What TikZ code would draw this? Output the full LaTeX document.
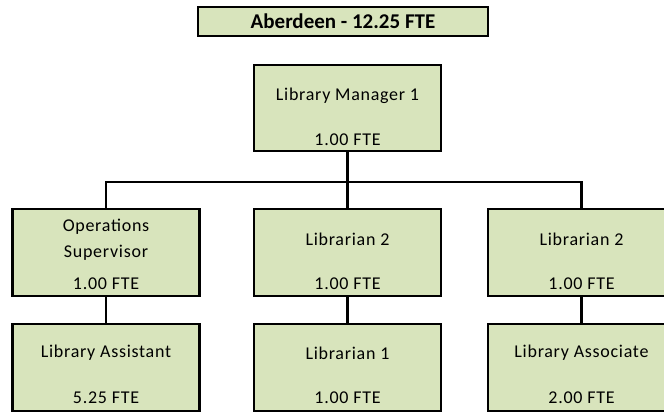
\documentclass[tikz,border=0pt]{standalone}
\usepackage{fontspec}
\setmainfont{Carlito}
\newfontfamily\boxfont{Carlito}[LetterSpace=4]
\definecolor{boxgreen}{HTML}{D8E4BC}
\tikzset{
  postbox/.style={draw=black, line width=2.4pt, fill=boxgreen, rectangle,
    minimum width=187pt, minimum height=87pt, inner sep=0pt},
  titlebox/.style={draw=black, line width=2.4pt, fill=boxgreen, rectangle,
    minimum width=290pt, minimum height=29pt, inner sep=0pt,
    font=\fontsize{21}{25}\selectfont\bfseries},
  posttext/.style={inner sep=0pt, font=\boxfont\fontsize{18}{21}\selectfont},
  link/.style={draw=black, line width=2.2pt}
}
\begin{document}
\begin{tikzpicture}[x=1pt,y=-1pt]
\useasboundingbox (0,0) rectangle (664,414);
\clip (0,0) rectangle (664,414);

% header
\node[titlebox] (head) at (343,21.5) {Aberdeen - 12.25 FTE};

% top of the tree
\node[postbox, minimum height=86pt] (mgr) at (347.5,108) {};
\node[posttext] (mgrA) at (347.5,96) {Library Manager 1};
\node[posttext] (mgrB) at (347.5,140) {1.00 FTE};

% second level
\node[postbox] (ops) at (106,252.5) {};
\node[posttext] (opsA) at (106,227) {Operations};
\node[posttext] (opsB) at (106,253) {Supervisor};
\node[posttext] (opsC) at (106,284) {1.00 FTE};

\node[postbox] (libA) at (347.5,252.5) {};
\node[posttext] (libAa) at (347.5,239) {Librarian 2};
\node[posttext] (libAb) at (347.5,284) {1.00 FTE};

\node[postbox] (libB) at (581.5,252.5) {};
\node[posttext] (libBa) at (581.5,239) {Librarian 2};
\node[posttext] (libBb) at (581.5,284) {1.00 FTE};

% third level
\node[postbox] (asst) at (106,367.5) {};
\node[posttext] (asstA) at (106,353) {Library Assistant};
\node[posttext] (asstB) at (106,398) {5.25 FTE};

\node[postbox] (lib1) at (347.5,367.5) {};
\node[posttext] (lib1a) at (347.5,353) {Librarian 1};
\node[posttext] (lib1b) at (347.5,398) {1.00 FTE};

\node[postbox] (assoc) at (581.5,367.5) {};
\node[posttext] (assocA) at (581.5,353) {Library Associate};
\node[posttext] (assocB) at (581.5,398) {2.00 FTE};

% connectors
\coordinate (bar) at (347.5,182);
\draw[link] (mgr.south) -- (bar);
\draw[link] (ops.north) |- (bar) -| (libB.north);
\draw[link] (libA.north) -- (bar);
\draw[link] (ops.south) -- (asst.north);
\draw[link] (libA.south) -- (lib1.north);
\draw[link] (libB.south) -- (assoc.north);
\end{tikzpicture}
\end{document}
